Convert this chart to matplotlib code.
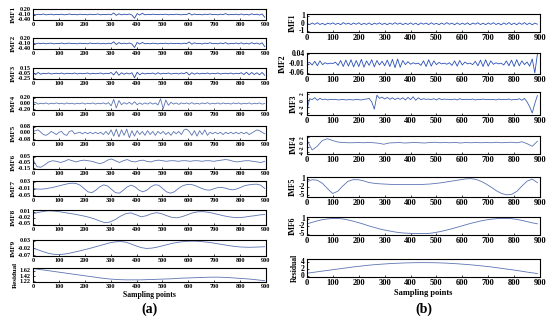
import numpy as np
import matplotlib.pyplot as plt

plt.rcParams['font.family'] = 'Liberation Serif'
plt.rcParams['font.weight'] = 'bold'

# ---------------- (a) ----------------
a_imf1 = [-0.08, -0.12, -0.09, -0.11, -0.07, -0.12, -0.10, -0.08, -0.12, -0.09,
          -0.11, -0.08, -0.12, -0.10, -0.07, -0.11, -0.09, -0.12, -0.08, -0.10,
          -0.09, -0.12, -0.08, -0.11, -0.10, -0.07, -0.12, -0.09, -0.11, -0.08,
          -0.12, -0.01, -0.15, -0.06, -0.12, -0.08, -0.11, -0.07, -0.13, -0.32,
          -0.05, -0.13, -0.03, -0.12, -0.09, -0.11, -0.08, -0.10, -0.11, -0.09,
          -0.10, -0.08, -0.12, -0.09, -0.11, -0.08, -0.10, -0.12, -0.09, -0.11,
          -0.02, -0.13, -0.07, -0.11, -0.09, -0.12, -0.08, -0.10, -0.07, -0.11,
          -0.09, -0.12, -0.08, -0.11, -0.05, -0.12, -0.09, -0.11, -0.08, -0.12,
          -0.07, -0.12, -0.09, -0.13, -0.06, -0.11, -0.08, -0.13, -0.07, -0.26]
a_imf2 = [-0.09, -0.12, -0.08, -0.11, -0.08, -0.12, -0.09, -0.08, -0.12, -0.10,
          -0.11, -0.07, -0.12, -0.09, -0.08, -0.11, -0.10, -0.12, -0.08, -0.11,
          -0.09, -0.12, -0.07, -0.11, -0.10, -0.08, -0.12, -0.09, -0.12, -0.08,
          -0.12, 0.00, -0.16, -0.05, -0.12, -0.08, -0.12, -0.07, -0.13, -0.33,
          -0.04, -0.13, -0.04, -0.12, -0.09, -0.12, -0.08, -0.10, -0.12, -0.09,
          -0.10, -0.08, -0.12, -0.08, -0.11, -0.09, -0.10, -0.12, -0.08, -0.11,
          -0.01, -0.14, -0.06, -0.11, -0.09, -0.13, -0.08, -0.10, -0.06, -0.11,
          -0.09, -0.12, -0.07, -0.11, -0.05, -0.13, -0.09, -0.11, -0.07, -0.12,
          -0.06, -0.13, -0.08, -0.13, -0.05, -0.12, -0.07, -0.14, -0.06, -0.28]
a_imf3 = [-0.02, -0.09, -0.01, -0.08, -0.04, -0.06, -0.03, -0.07, -0.05, -0.04,
          -0.06, -0.03, -0.07, -0.04, -0.05, -0.06, -0.03, -0.07, -0.04, -0.06,
          -0.05, -0.03, -0.07, -0.04, -0.06, -0.05, -0.03, -0.07, -0.04, -0.06,
          -0.01, -0.11, 0.03, -0.12, -0.02, -0.08, -0.03, -0.07, -0.02, -0.22,
          0.00, -0.10, -0.03, -0.07, -0.04, -0.06, -0.03, -0.08, -0.02, -0.07,
          -0.04, -0.06, -0.03, -0.07, -0.05, -0.04, -0.07, -0.03, -0.06, 0.00,
          -0.11, -0.02, -0.08, -0.03, -0.07, -0.04, -0.06, -0.03, -0.07, -0.04,
          -0.06, -0.03, -0.07, -0.05, -0.04, -0.06, -0.03, -0.07, -0.04, -0.06,
          -0.02, -0.09, 0.00, -0.10, -0.01, -0.09, -0.02, -0.10, -0.01, -0.12]
a_imf4 = [0.00, 0.04, -0.02, 0.01, -0.01, 0.02, -0.02, 0.01, -0.01, 0.02,
          -0.01, 0.01, -0.02, 0.02, -0.01, 0.01, -0.02, 0.01, -0.01, 0.02,
          -0.02, 0.01, -0.01, 0.02, -0.02, 0.01, -0.01, 0.02, -0.02, 0.03,
          -0.08, 0.14, -0.15, 0.10, -0.04, 0.03, -0.02, 0.04, -0.03, 0.06,
          -0.04, 0.02, -0.03, 0.02, -0.02, 0.03, -0.02, 0.02, -0.05, 0.16,
          -0.18, 0.12, -0.06, 0.04, -0.02, 0.02, -0.03, 0.02, -0.01, 0.02,
          -0.02, 0.03, -0.02, 0.01, -0.02, 0.02, -0.01, 0.03, -0.02, 0.01,
          -0.01, 0.02, -0.02, 0.02, -0.01, 0.01, -0.02, 0.02, -0.01, 0.02,
          -0.02, 0.01, -0.01, 0.02, -0.02, 0.01, -0.01, 0.02, -0.02, 0.00]
a_imf5 = [0.02, 0.03, 0.04, 0.01, -0.02, -0.03, -0.01, 0.02, 0.00, -0.02,
          0.01, 0.02, -0.02, -0.03, 0.02, 0.03, -0.01, 0.00, 0.01, -0.01,
          0.01, -0.01, 0.01, -0.01, 0.01, -0.01, 0.01, -0.02, 0.02, -0.02,
          0.04, -0.04, 0.05, -0.05, 0.04, -0.03, 0.05, -0.06, 0.03, -0.04,
          0.03, -0.02, 0.02, -0.03, 0.03, -0.02, 0.02, -0.03, 0.02, -0.01,
          0.02, -0.02, 0.01, -0.03, 0.02, -0.01, 0.02, -0.02, 0.04, 0.05,
          0.02, -0.03, 0.03, -0.04, 0.03, -0.02, 0.04, -0.03, 0.01, -0.01,
          0.01, -0.01, 0.01, -0.02, 0.01, -0.01, 0.01, -0.01, 0.01, -0.01,
          0.01, -0.01, 0.01, -0.02, 0.00, 0.02, 0.04, 0.03, 0.01, -0.01]
a_imf6 = [0.00, -0.12, -0.13, -0.09, -0.04, -0.02, -0.03, -0.05, -0.03, 0.00,
          -0.02, -0.04, -0.02, -0.01, -0.02, -0.03, -0.05, -0.07, -0.05, -0.01,
          0.01, -0.02, -0.05, -0.02, 0.00, -0.03, -0.04, -0.02, -0.01, -0.03,
          -0.04, -0.02, -0.01, -0.02, -0.03, -0.02, -0.02, -0.03, -0.02, -0.02,
          -0.03, -0.02, -0.02, -0.03, -0.02, -0.02, -0.03, -0.02, -0.01, 0.00,
          -0.01, -0.03, -0.04, -0.03, -0.02, -0.02, -0.03, -0.04, -0.05, -0.03]
a_imf7 = [-0.010, -0.013, -0.014, -0.012, -0.008, -0.004, 0.002, 0.008, 0.014, 0.019,
          0.022, 0.020, 0.010, -0.010, -0.030, -0.035, -0.020, 0.000, 0.012, 0.005,
          -0.015, -0.035, -0.038, -0.020, 0.000, 0.010, 0.000, -0.020, -0.030, -0.020,
          0.000, 0.012, 0.010, -0.010, -0.030, -0.038, -0.030, -0.010, 0.005, 0.013,
          0.015, 0.010, 0.000, -0.010, -0.018, -0.020, -0.012, -0.005, -0.003, -0.008,
          -0.015, -0.018, -0.012, -0.002, 0.008, 0.012, 0.015, 0.016, 0.010, -0.010]
a_imf8 = [0.000, 0.006, 0.011, 0.014, 0.013, 0.010, 0.006, 0.002, -0.002, -0.007,
          -0.012, -0.018, -0.026, -0.036, -0.044, -0.040, -0.028, -0.012, 0.000, 0.004,
          -0.005, -0.015, -0.010, 0.000, 0.005, 0.000, -0.010, -0.018, -0.020, -0.014,
          -0.005, 0.004, 0.009, 0.010, 0.007, 0.002, -0.004, -0.010, -0.015, -0.018,
          -0.019, -0.017, -0.013, -0.010, -0.006, -0.004]
a_imf9 = [-0.020, -0.032, -0.045, -0.056, -0.063, -0.065, -0.062, -0.056, -0.048, -0.040,
          -0.031, -0.022, -0.012, -0.002, 0.008, 0.018, 0.024, 0.026, 0.022, 0.010,
          -0.004, -0.016, -0.022, -0.020, -0.014, -0.005, 0.004, 0.013, 0.020, 0.025,
          0.028, 0.029, 0.028, 0.025, 0.021, 0.016, 0.010, 0.004, -0.002, -0.007,
          -0.011, -0.013, -0.014, -0.013, -0.012, -0.010]
a_res = [1.70, 1.66, 1.62, 1.58, 1.54, 1.50, 1.46, 1.42, 1.38, 1.34,
         1.31, 1.29, 1.28, 1.28, 1.28, 1.29, 1.30, 1.31, 1.32, 1.34,
         1.35, 1.36, 1.37, 1.38, 1.38, 1.37, 1.35, 1.33, 1.31, 1.28, 1.25]

# ---------------- (b) ----------------
b_imf1 = [0.05, -0.12, 0.10, -0.08, 0.14, -0.10, 0.06, -0.15, 0.09, -0.05,
          0.12, -0.09, 0.07, -0.13, 0.15, -0.06, 0.08, -0.11, 0.10, -0.07,
          0.13, -0.12, 0.06, -0.09, 0.11, -0.14, 0.08, -0.06, 0.12, -0.10,
          0.07, -0.13, 0.09, -0.08, 0.14, -0.07, 0.10, -0.12, 0.06, -0.09,
          0.12, -0.10, 0.08, -0.14, 0.11, -0.06, 0.09, -0.11, 0.13, -0.08,
          0.06, -0.12, 0.10, -0.09, 0.15, -0.07, 0.08, -0.13, 0.11, -0.10,
          0.07, -0.09, 0.12, -0.14, 0.09, -0.06, 0.13, -0.11, 0.08, -0.12,
          0.10, -0.08, 0.14, -0.10, 0.07, -0.15, 0.11, -0.09, 0.16, -0.12,
          0.09, -0.13, 0.12, -0.08, 0.15, -0.11, 0.10, -0.14, 0.08, -0.06]
b_imf2 = [-0.010, -0.004, -0.018, 0.002, -0.022, 0.004, -0.016, -0.006, -0.012, -0.008,
          -0.010, -0.003, -0.020, 0.006, -0.026, 0.008, -0.024, 0.010, -0.028, 0.006,
          -0.026, 0.012, -0.030, 0.004, -0.020, 0.010, -0.028, 0.006, -0.018, 0.002,
          -0.022, 0.008, -0.026, 0.012, -0.032, 0.014, -0.030, 0.006, -0.016, 0.000,
          -0.014, -0.006, -0.012, -0.008, -0.020, 0.004, -0.026, 0.010, -0.024, 0.004,
          -0.016, -0.004, -0.012, -0.008, -0.014, -0.006, -0.020, 0.004, -0.024, 0.006,
          -0.018, -0.002, -0.012, -0.008, -0.016, 0.002, -0.022, 0.008, -0.026, 0.010,
          -0.024, 0.004, -0.014, -0.006, -0.012, -0.008, -0.018, 0.004, -0.022, 0.008,
          -0.026, 0.010, -0.022, 0.004, -0.016, -0.002, -0.024, 0.014, -0.060, 0.040]
b_imf3 = [-3.0, 0.5, 0.2, 0.8, 0.0, 0.6, 0.2, 0.4, 0.1, 0.3,
          0.2, 0.3, 0.1, 0.2, 0.3, 0.1, 0.2, 0.2, 0.1, 0.3,
          0.2, 0.1, 0.3, 0.4, 0.6, -0.5, -2.8, 1.6, 0.6, 1.0,
          0.4, 0.9, 0.3, 0.8, 0.2, 0.7, 0.3, 0.8, 0.1, 0.9,
          0.2, 1.1, 0.0, 0.8, 0.2, 0.5, 0.3, 0.4, 0.2, 0.5,
          0.1, 0.6, 0.2, 0.4, 0.3, 0.3, 0.2, 0.4, 0.1, 0.5,
          0.2, 0.3, 0.3, 0.2, 0.4, 0.1, 0.3, 0.2, 0.4, 0.2,
          0.3, 0.2, 0.3, 0.1, 0.4, 0.2, 0.3, 0.2, 0.4, 0.1,
          0.3, 0.2, 0.5, 0.0, 0.6, -0.5, -2.0, -4.0, -1.0, 1.5]
b_imf4 = [1.0, -3.0, -1.5, 0.8, 1.5, 0.8, 0.2, 0.0, -0.1, -0.1,
          0.0, -0.1, 0.0, -0.1, -0.3, -0.7, -0.2, -0.1, 0.0, -0.2,
          -0.1, 0.0, -0.1, -0.2, 0.0, 0.1, -0.1, 0.0, -0.1, 0.0,
          -0.2, 0.0, -0.1, 0.0, -0.1, 0.0, -0.1, 0.1, -0.1, 0.0,
          0.1, -0.1, 0.3, -0.5, -1.5, 0.5]
b_imf5 = [0.0, 0.8, 0.6, -0.5, -2.5, -4.3, -3.5, -1.5, 0.2, 0.8,
          0.8, 0.4, -0.2, -0.5, -0.7, -0.8, -0.9, -1.0, -1.0, -1.0,
          -1.0, -1.0, -1.0, -0.9, -0.8, -0.6, -0.4, -0.1, 0.2, 0.5,
          0.8, 1.1, 1.2, 0.9, 0.2, -0.8, -2.0, -3.3, -4.3, -4.8,
          -4.6, -3.5, -1.5, 0.3, 1.0, -0.3]
b_imf6 = [-1.0, -0.4, 0.2, 0.7, 1.0, 1.2, 1.2, 1.0, 0.6, 0.1,
          -0.5, -1.1, -1.8, -2.4, -3.0, -3.5, -3.9, -4.3, -4.6, -4.8,
          -4.9, -5.0, -5.0, -5.0, -4.9, -4.6, -4.2, -3.7, -3.2, -2.6,
          -2.0, -1.4, -0.8, -0.3, 0.2, 0.6, 0.9, 1.1, 1.2, 1.2,
          1.1, 0.8, 0.4, -0.1, -0.6, -1.0]
b_res = [0.8, 1.1, 1.4, 1.7, 2.0, 2.3, 2.6, 2.85, 3.1, 3.3,
         3.45, 3.6, 3.7, 3.78, 3.83, 3.85, 3.84, 3.8, 3.72, 3.6,
         3.45, 3.28, 3.08, 2.85, 2.6, 2.3, 2.0, 1.7, 1.35, 1.0, 0.7]

xticks = [0, 100, 200, 300, 400, 500, 600, 700, 800, 900]

W, H = 550, 326
fig = plt.figure(figsize=(W / 100, H / 100), dpi=100)


def panel(x0, top, bot, y, ylim, yticks, ylab, color, xfs, yfs, labfs,
          end=895, rot=0, fmt='%.2f'):
    ax = fig.add_axes([x0 / W, 1 - bot / H, 233 / W, (bot - top) / H])
    ax.plot(np.linspace(0, end, len(y)), y, color=color, lw=0.6)
    ax.set_xlim(0, 900)
    ax.set_ylim(*ylim)
    ax.set_xticks(xticks)
    ax.set_yticks(yticks)
    ax.set_yticklabels([fmt % t for t in yticks], rotation=rot,
                       va='center', fontsize=yfs)
    ax.tick_params(direction='in', length=1.5, width=0.5, pad=1.5)
    ax.tick_params(axis='x', labelsize=xfs)
    for s in ax.spines.values():
        s.set_linewidth(0.8)
    ax.set_ylabel(ylab, fontsize=labfs, fontweight='bold', labelpad=1.5)
    return ax


cl = '#2a4aa6'
cs = '#5b74b2'
xl = 33
left = [
    (9, 20, a_imf1, (-0.42, 0.22), [0.2, -0.1, -0.4], 'IMF1', cl),
    (38, 49, a_imf2, (-0.42, 0.22), [0.2, -0.1, -0.4], 'IMF2', cl),
    (68, 79, a_imf3, (-0.27, 0.17), [0.15, -0.05, -0.25], 'IMF3', cl),
    (97, 110, a_imf4, (-0.22, 0.22), [0.2, 0.0, -0.2], 'IMF4', cs),
    (126, 140, a_imf5, (-0.09, 0.09), [0.08, 0.0, -0.08], 'IMF5', cs),
    (156, 169, a_imf6, (-0.16, 0.06), [0.05, -0.05, -0.15], 'IMF6', cs),
    (181, 196, a_imf7, (-0.055, 0.035), [0.03, -0.01, -0.05], 'IMF7', cs),
    (210, 225, a_imf8, (-0.055, 0.018), [0.01, -0.02, -0.05], 'IMF8', cs),
    (240, 256, a_imf9, (-0.075, 0.037), [0.03, -0.02, -0.07], 'IMF9', cs),
    (268, 282, a_res, (1.20, 1.72), [1.62, 1.42, 1.22], 'Residual', cs),
]
for top, bot, y, yl, yt, lab, c in left:
    ax = panel(xl, top, bot, y, yl, yt, lab, c, 4.5, 4.5, 5)
ax.set_xlabel('Sampling points', fontsize=5.5, fontweight='bold', labelpad=1.5)
fig.text(150 / W, 1 - 309 / H, '(a)', fontsize=10, fontweight='bold',
         ha='center', va='center')

xr = 307
right = [
    (14, 32, b_imf1, (-1.1, 1.3), [1, 0, -1], 'IMF1', '#2a50b8', 0, '%g'),
    (53, 74, b_imf2, (-0.066, 0.046), [0.04, -0.01, -0.06], 'IMF2', '#2a50b8', 0, '%.2f'),
    (92, 115, b_imf3, (-4.6, 2.6), [2, 0, -2, -4], 'IMF3', '#3d5fb0', 90, '%g'),
    (136, 154, b_imf4, (-4.6, 2.6), [2, 0, -2, -4], 'IMF4', cs, 90, '%g'),
    (177, 197, b_imf5, (-5.6, 1.8), [1, -2, -5], 'IMF5', cs, 0, '%g'),
    (217, 235, b_imf6, (-5.6, 1.8), [1, -2, -5], 'IMF6', cs, 0, '%g'),
    (259, 277, b_res, (-0.3, 4.9), [4, 2, 0], 'Residual', cs, 0, '%g'),
]
for top, bot, y, yl, yt, lab, c, rot, fmt in right:
    yfs = 4 if rot else 5.5
    ax = panel(xr, top, bot, y, yl, yt, lab, c, 6, yfs, 5.5,
               end=890, rot=rot, fmt=fmt)
ax.set_xlabel('Sampling points', fontsize=6, fontweight='bold', labelpad=1.5)
fig.text(424 / W, 1 - 309 / H, '(b)', fontsize=10, fontweight='bold',
         ha='center', va='center')

fig.savefig('out.png', dpi=100)
